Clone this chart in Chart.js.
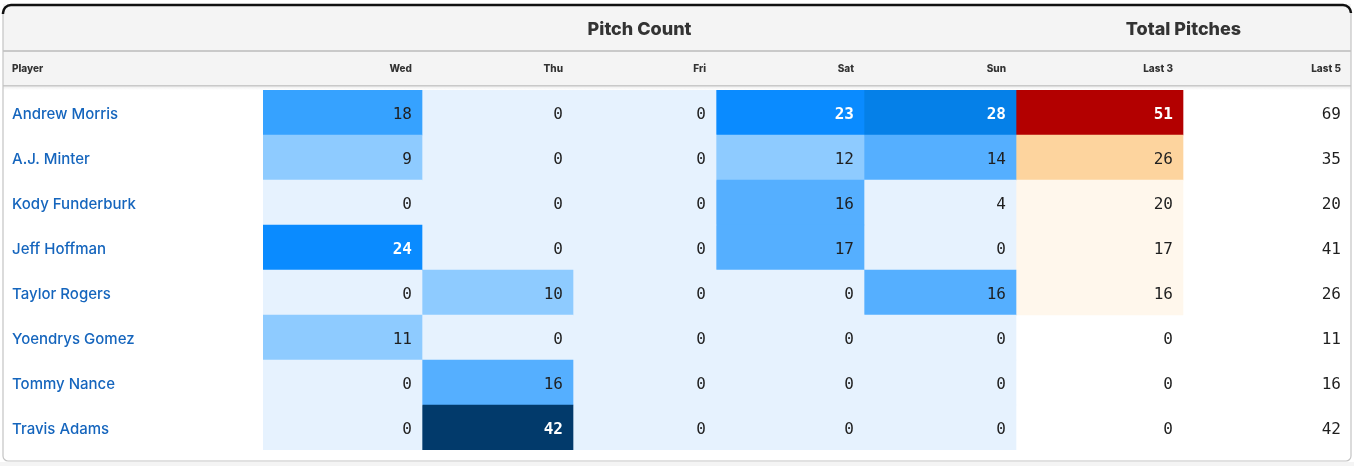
<!DOCTYPE html>
<html>
<head>
<meta charset="utf-8">
<script src="https://cdn.jsdelivr.net/npm/chart.js@4.4.1/dist/chart.umd.min.js"></script>
<style>
  html, body { margin: 0; padding: 0; background: #fff; }
  #wrap { width: 1354px; height: 466px; position: relative; }
</style>
</head>
<body>
<div id="wrap"><canvas id="pitchChart"></canvas></div>
<script>
// --- data ---
const players = ['Andrew Morris', 'A.J. Minter', 'Kody Funderburk', 'Jeff Hoffman',
  'Taylor Rogers', 'Yoendrys Gomez', 'Tommy Nance', 'Travis Adams'];
const columnLabels = ['Wed', 'Thu', 'Fri', 'Sat', 'Sun', 'Last 3', 'Last 5'];
const wed = [18, 9, 0, 24, 0, 11, 0, 0];
const thu = [0, 0, 0, 0, 10, 0, 16, 42];
const fri = [0, 0, 0, 0, 0, 0, 0, 0];
const sat = [23, 12, 16, 17, 0, 0, 0, 0];
const sun = [28, 14, 4, 0, 16, 0, 0, 0];
const last3 = [51, 26, 20, 17, 16, 0, 0, 0];
const last5 = [69, 35, 20, 41, 26, 11, 16, 42];

// layout: column edges along the x scale (page pixels)
const colEdges = [263, 422, 573, 716, 864, 1016, 1183, 1351];

const numFont = '"DejaVu Sans Mono", monospace';
const sansFont = 'Inter, "Noto Sans", sans-serif';

// colour scales
const blueFill = (v) => {
  if (v <= 4) return '#e6f2fe';
  if (v <= 12) return '#8ecbff';
  if (v <= 17) return '#55afff';
  if (v <= 20) return '#36a2ff';
  if (v <= 25) return '#0a8bff';
  if (v <= 35) return '#0580e8';
  return '#023a6b';
};
const redFill = (v) => {
  if (v === 0) return 'rgba(0,0,0,0)';
  if (v <= 20) return '#fff7ec';
  if (v <= 35) return '#fdd49e';
  return '#b30000';
};
const isDark = (col, v) => (col === 5 ? v > 35 : (col < 5 && v >= 23));

const series = [wed, thu, fri, sat, sun, last3, last5];

const datasets = series.map((vals, col) => ({
  label: columnLabels[col],
  data: vals.map(() => [colEdges[col], colEdges[col + 1]]),
  values: vals,
  backgroundColor: vals.map(v => col < 5 ? blueFill(v) : (col === 5 ? redFill(v) : 'rgba(0,0,0,0)')),
  borderWidth: 0,
  borderSkipped: false,
  grouped: false,
  barPercentage: 1,
  categoryPercentage: 1,
}));

// draws the table frame and the header rows
const tableFrame = {
  id: 'tableFrame',
  beforeDraw(chart) {
    const { ctx } = chart;
    const x = chart.scales.x;
    const L = 3, R = 1351, T = 4, B = 461;
    ctx.save();
    ctx.fillStyle = '#fff';
    ctx.fillRect(0, 0, chart.width, chart.height);

    // header background
    ctx.fillStyle = '#f4f4f4';
    ctx.fillRect(L, T, R - L, 82);
    // faint shadow under header
    const g = ctx.createLinearGradient(0, 86, 0, 90);
    g.addColorStop(0, '#ececec');
    g.addColorStop(1, '#ffffff');
    ctx.fillStyle = g;
    ctx.fillRect(L, 86, R - L, 4);

    // header lines
    ctx.fillStyle = '#c9c9c9';
    ctx.fillRect(L, 50, R - L, 2);
    ctx.fillRect(L, 85, R - L, 1.5);

    // below box
    ctx.fillStyle = '#f4f4f4';
    ctx.fillRect(0, B + 1, chart.width, chart.height - B);

    // outer border
    ctx.strokeStyle = '#c4c4c4';
    ctx.lineWidth = 1.2;
    ctx.beginPath();
    ctx.moveTo(L, T + 6);
    ctx.lineTo(L, B - 5);
    ctx.arcTo(L, B, L + 5, B, 5);
    ctx.lineTo(R - 5, B);
    ctx.arcTo(R, B, R, B - 5, 5);
    ctx.lineTo(R, T + 6);
    ctx.stroke();

    // top black rule
    ctx.strokeStyle = '#111';
    ctx.lineWidth = 2.5;
    ctx.beginPath();
    ctx.moveTo(L, T + 10);
    ctx.arcTo(L, T + 1, L + 8, T + 1, 8);
    ctx.lineTo(R - 8, T + 1);
    ctx.arcTo(R, T + 1, R, T + 10, 8);
    ctx.stroke();

    // group titles
    ctx.fillStyle = '#333';
    ctx.font = '800 18px ' + sansFont;
    ctx.textAlign = 'center';
    ctx.textBaseline = 'middle';
    const px = (v) => x.getPixelForValue(v);
    ctx.fillText('Pitch Count', (px(colEdges[0]) + px(colEdges[5])) / 2, 30);
    ctx.fillText('Total Pitches', (px(colEdges[5]) + px(colEdges[7])) / 2, 30);

    // column headers
    ctx.font = '800 10px ' + sansFont;
    ctx.textAlign = 'left';
    ctx.fillText('Player', 12, 69);
    ctx.textAlign = 'right';
    columnLabels.forEach((lab, i) => {
      ctx.fillText(lab, px(colEdges[i + 1]) - 10, 69);
    });
    ctx.restore();
  },
  afterDatasetsDraw(chart) {
    const { ctx } = chart;
    ctx.save();
    ctx.textAlign = 'right';
    ctx.textBaseline = 'middle';
    chart.data.datasets.forEach((ds, col) => {
      chart.getDatasetMeta(col).data.forEach((bar, row) => {
        const v = ds.values[row];
        const dark = isDark(col, v);
        ctx.fillStyle = dark ? '#fff' : '#1f1f1f';
        ctx.font = (dark ? 'bold ' : '') + '16px ' + numFont;
        const right = Math.max(bar.x, bar.base);
        ctx.fillText(String(v), right - 10, bar.y + 2);
      });
    });
    ctx.restore();
  }
};

const ctx = document.getElementById('pitchChart').getContext('2d');
new Chart(ctx, {
  type: 'bar',
  data: { labels: players, datasets },
  options: {
    indexAxis: 'y',
    responsive: true,
    maintainAspectRatio: false,
    animation: false,
    layout: { padding: { left: 12, right: 3, top: 90, bottom: 16 } },
    plugins: { legend: { display: false }, tooltip: { enabled: false } },
    scales: {
      x: { type: 'linear', min: colEdges[0], max: colEdges[colEdges.length - 1], display: false },
      y: {
        type: 'category',
        grid: { display: false },
        border: { display: false },
        ticks: {
          crossAlign: 'far',
          padding: 0,
          labelOffset: 2,
          color: '#1565bd',
          font: { family: sansFont, size: 15, weight: '500' },
        },
        afterFit(scale) { scale.width = 251; },
      },
    },
  },
  plugins: [tableFrame],
});
</script>
</body>
</html>
